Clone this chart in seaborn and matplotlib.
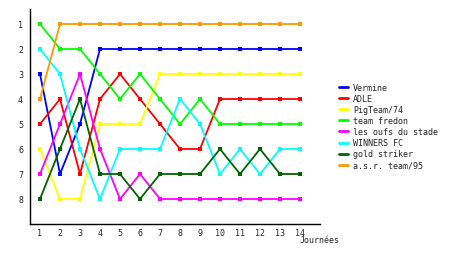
import matplotlib
matplotlib.use("Agg")
import matplotlib.pyplot as plt
import seaborn as sns
import pandas as pd

journees = list(range(1, 15))
teams = ["Vermine", "ADLE", "PigTeam/74", "team fredon", "les oufs du stade",
         "WINNERS FC", "gold striker", "a.s.r. team/95"]
vermine = [3, 7, 5, 2, 2, 2, 2, 2, 2, 2, 2, 2, 2, 2]
adle = [5, 4, 7, 4, 3, 4, 5, 6, 6, 4, 4, 4, 4, 4]
pigteam = [6, 8, 8, 5, 5, 5, 3, 3, 3, 3, 3, 3, 3, 3]
fredon = [1, 2, 2, 3, 4, 3, 4, 5, 4, 5, 5, 5, 5, 5]
oufs = [7, 5, 3, 6, 8, 7, 8, 8, 8, 8, 8, 8, 8, 8]
winners = [2, 3, 6, 8, 6, 6, 6, 4, 5, 7, 6, 7, 6, 6]
gold = [8, 6, 4, 7, 7, 8, 7, 7, 7, 6, 7, 6, 7, 7]
asr = [4, 1, 1, 1, 1, 1, 1, 1, 1, 1, 1, 1, 1, 1]
colors = ["#0000FF", "#FF0000", "#FFFF00", "#00FF00", "#FF00FF",
          "#00FFFF", "#006400", "#FF9900"]

series = [vermine, adle, pigteam, fredon, oufs, winners, gold, asr]
rows = []
for t, s in zip(teams, series):
    for j, r in zip(journees, s):
        rows.append({"Journée": j, "Rang": r, "Equipe": t})
df = pd.DataFrame(rows)

sns.set_style("white")
plt.rcParams["font.family"] = ["DejaVu Sans Mono"]

fig = plt.figure(figsize=(4.6, 2.55), dpi=100)
ax = fig.add_axes([30 / 460, 1 - 225 / 255, 290 / 460, 215 / 255])
sns.lineplot(data=df, x="Journée", y="Rang", hue="Equipe", hue_order=teams,
             palette=colors, marker="s", markersize=3, markeredgewidth=0,
             linewidth=1.3, ax=ax, legend=True)

ax.set_xlim(0.5, 15)
ax.set_ylim(9, 0.4)
ax.set_xticks(journees)
ax.set_yticks(range(1, 9))
ax.tick_params(axis="x", labelsize=6, length=2, width=1, pad=1)
ax.tick_params(axis="y", labelsize=6, length=0, pad=5)
for s in ["top", "right"]:
    ax.spines[s].set_visible(False)
for s in ["left", "bottom"]:
    ax.spines[s].set_color("black")
    ax.spines[s].set_linewidth(1)
ax.set_xlabel("")
ax.set_ylabel("")
fig.text(300 / 460, 1 - 241 / 255, "Journées", fontsize=6, ha="left", va="center")

handles, labels = ax.get_legend_handles_labels()
for h in handles:
    h.set_marker("")
    h.set_linewidth(2)
leg = ax.legend(handles, labels, loc="upper left",
                bbox_to_anchor=(339 / 460, 1 - 84 / 255), bbox_transform=fig.transFigure,
                frameon=False, fontsize=6, handlelength=1.1, handletextpad=0.6,
                labelspacing=0.25, borderpad=0, borderaxespad=0)

fig.savefig("out.png", dpi=100)
